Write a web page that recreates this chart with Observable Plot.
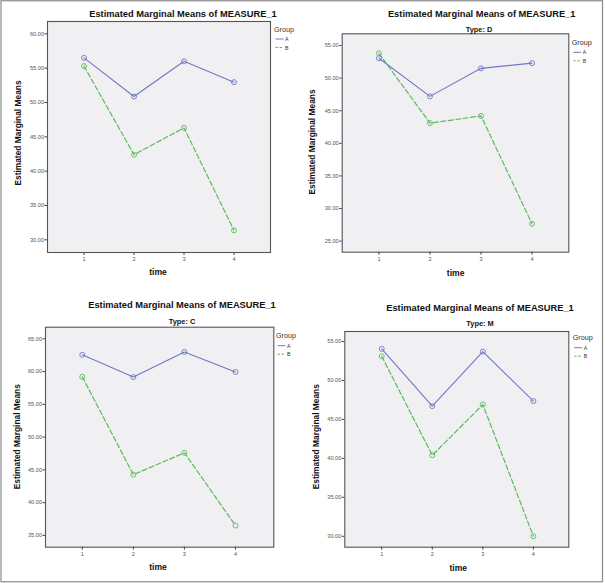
<!DOCTYPE html>
<html><head><meta charset="utf-8">
<script src="https://cdn.jsdelivr.net/npm/d3@7"></script>
<script src="https://cdn.jsdelivr.net/npm/@observablehq/plot@0.6"></script>
<style>
body{margin:0;background:#fff;}
#wrap{position:relative;width:605px;height:583px;overflow:hidden;font-family:"Liberation Sans",Arial,sans-serif;}
#wrap svg.panel{position:absolute;}
#overlay{position:absolute;left:0;top:0;}
</style></head>
<body><div id="wrap"></div>
<script>
const times = [1, 2, 3, 4];
const groups = ["A", "B"];
const mainTitle = "Estimated Marginal Means of MEASURE_1";
const subtitles = ["", "Type: D", "Type: C", "Type: M"];
// values per panel: [A series, B series]
const p1A = [56.5, 50.87, 56.0, 52.96];
const p1B = [55.3, 42.4, 46.3, 31.37];
const p2A = [53.05, 47.2, 51.5, 52.3];
const p2B = [53.8, 43.1, 44.2, 27.65];
const p3A = [62.56, 59.16, 63.0, 59.95];
const p3B = [59.2, 44.27, 47.6, 36.5];
const p4A = [54.06, 46.7, 53.7, 47.35];
const p4B = [53.1, 40.4, 46.9, 30.0];
const p1Ticks = [30, 35, 40, 45, 50, 55, 60];
const p2Ticks = [25, 30, 35, 40, 45, 50, 55];
const p3Ticks = [35, 40, 45, 50, 55, 60, 65];
const p4Ticks = [30, 35, 40, 45, 50, 55];

const colA = "#6f78c2", colB = "#5cba5c";
const font = '"Liberation Sans", Arial, sans-serif';

const panels = [
  {A: p1A, B: p1B, ticks: p1Ticks, yd: [28.15, 61.8], xd: [0.27, 4.73], left: 0, top: 0, w: 300, h: 290, m: [21, 30, 38, 47],
   title: [183, 14], sub: null, yl: [18, 133], xl: [158, 272], leg: [274, 29]},
  {A: p2A, B: p2B, ticks: p2Ticks, yd: [23.3, 56.8], xd: [0.28, 4.72], left: 300, top: 0, w: 305, h: 290, m: [33.3, 36.7, 38.3, 41.7],
   title: [481.7, 13.5], sub: [479, 29], yl: [311.7, 142], xl: [455.7, 273.3], leg: [571.7, 42.3]},
  {A: p3A, B: p3B, ticks: p3Ticks, yd: [33.2, 66.77], xd: [0.28, 4.75], left: 0, top: 290, w: 300, h: 293, m: [36.7, 26.7, 36.3, 45],
   title: [182, 305], sub: [182, 321.7], yl: [16.7, 436.7], xl: [158, 566.7], leg: [276, 335.7]},
  {A: p4A, B: p4B, ticks: p4Ticks, yd: [28.6, 56.28], xd: [0.27, 4.70], left: 300, top: 290, w: 305, h: 293, m: [41, 36.7, 36.3, 44.3],
   title: [480, 308.3], sub: [480, 323.3], yl: [316, 436.7], xl: [458.3, 567.7], leg: [572.7, 337.7]}
];

const wrap = document.getElementById("wrap");

panels.forEach((p, i) => {
  const data = [];
  groups.forEach(g => times.forEach((t, k) => data.push({time: t, value: p[g][k], group: g})));
  const chart = Plot.plot({
    width: p.w, height: p.h,
    marginTop: p.m[0], marginRight: p.m[1], marginBottom: p.m[2], marginLeft: p.m[3],
    style: {fontFamily: font, fontSize: "5.6px", color: "#555", background: "transparent"},
    x: {domain: p.xd, ticks: times, tickFormat: "d", label: null},
    y: {domain: p.yd, ticks: p.ticks, tickFormat: ".2f", label: null},
    color: {domain: groups, range: [colA, colB]},
    marks: [
      Plot.frame({fill: "#f0f0f3"}),
      Plot.line(data.filter(d => d.group === "A"), {x: "time", y: "value", stroke: colA, strokeWidth: 1.1}),
      Plot.line(data.filter(d => d.group === "B"), {x: "time", y: "value", stroke: colB, strokeWidth: 1.2, strokeDasharray: "5,2.5"}),
      Plot.dot(data, {x: "time", y: "value", stroke: "group", r: 2.5, strokeWidth: 0.9, fill: "none"}),
      Plot.frame({stroke: "#555", strokeWidth: 1.1}),
      Plot.axisY({ticks: p.ticks, tickFormat: ".2f", tickSize: 2.5, tickPadding: 1, label: null, stroke: "#444"}),
      Plot.axisX({ticks: times, tickFormat: "d", tickSize: 3, tickPadding: 1.5, label: null, stroke: "#444"})
    ]
  });
  chart.classList.add("panel");
  chart.style.left = p.left + "px";
  chart.style.top = p.top + "px";
  wrap.appendChild(chart);
});

// overlay with titles, axis labels and legends
const svg = d3.select(wrap).append("svg").attr("id", "overlay").attr("width", 605).attr("height", 583)
  .style("font-family", font);
svg.append("rect").attr("x", 1).attr("y", 0.75).attr("width", 601.5).attr("height", 581)
  .attr("fill", "none").attr("stroke", "#8a8a8a").attr("stroke-width", 1.2);

panels.forEach((p, i) => {
  svg.append("text").attr("x", p.title[0]).attr("y", p.title[1]).attr("text-anchor", "middle")
    .attr("dominant-baseline", "central").attr("font-weight", "bold").attr("font-size", 9.3).attr("fill", "#111").text(mainTitle);
  if (p.sub) svg.append("text").attr("x", p.sub[0]).attr("y", p.sub[1]).attr("text-anchor", "middle")
    .attr("dominant-baseline", "central").attr("font-weight", "bold").attr("font-size", 7.4).attr("fill", "#111").text(subtitles[i]);
  svg.append("text").attr("transform", `translate(${p.yl[0]},${p.yl[1]}) rotate(-90)`).attr("text-anchor", "middle")
    .attr("dominant-baseline", "central").attr("font-weight", "bold").attr("font-size", 8.4).attr("fill", "#111").text("Estimated Marginal Means");
  svg.append("text").attr("x", p.xl[0]).attr("y", p.xl[1]).attr("text-anchor", "middle")
    .attr("dominant-baseline", "central").attr("font-weight", "bold").attr("font-size", 8.6).attr("fill", "#111").text("time");
  const [lx, ly] = p.leg;
  svg.append("text").attr("x", lx).attr("y", ly).attr("dominant-baseline", "central")
    .attr("font-size", 7.2).attr("fill", "#333").text("Group");
  groups.forEach((g, k) => {
    const yy = ly + 10 + k * 8.5;
    svg.append("line").attr("x1", lx + 1.5).attr("x2", lx + 9.5).attr("y1", yy).attr("y2", yy)
      .attr("stroke", k === 0 ? colA : colB).attr("stroke-width", 1).attr("stroke-dasharray", k === 0 ? null : "2.5,1.5");
    svg.append("text").attr("x", lx + 11).attr("y", yy).attr("dominant-baseline", "central")
      .attr("font-size", 5.2).attr("fill", "#333").text(g);
  });
});
</script></body></html>
